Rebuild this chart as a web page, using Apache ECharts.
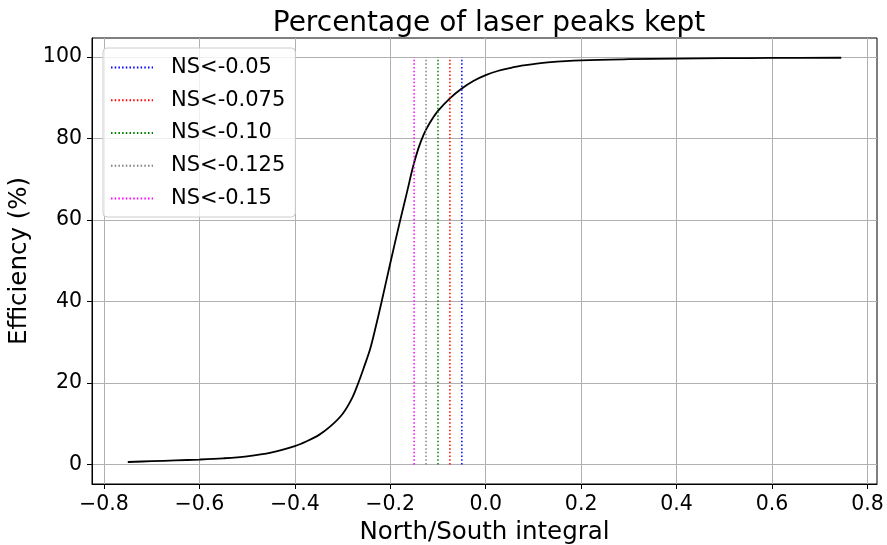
<!DOCTYPE html>
<html>
<head>
<meta charset="utf-8">
<title>Percentage of laser peaks kept</title>
<script src="https://cdn.jsdelivr.net/npm/echarts@6/dist/echarts.min.js"></script>
<style>
  html, body { margin: 0; padding: 0; background: #ffffff; }
  #chart { width: 887px; height: 545px; }
</style>
</head>
<body>
<div id="chart"></div>
<script>
// North/South integral values and the matching efficiency (%)
const nsIntegral = [
  -0.75, -0.70, -0.65, -0.60, -0.55, -0.50, -0.45, -0.40, -0.375, -0.35,
  -0.325, -0.30, -0.28, -0.267, -0.255, -0.242, -0.23, -0.218, -0.20, -0.179,
  -0.165, -0.152, -0.141, -0.13, -0.117, -0.10, -0.075, -0.05, -0.025, 0.0,
  0.025, 0.05, 0.075, 0.10, 0.13, 0.20, 0.30, 0.40, 0.50, 0.60, 0.745
];
const efficiency = [
  0.6, 0.8, 1.0, 1.2, 1.5, 2.0, 2.9, 4.5, 5.7, 7.2,
  9.4, 12.4, 16.3, 20.0, 23.9, 28.4, 34.0, 40.0, 49.4, 60.0,
  66.8, 73.2, 77.6, 81.0, 83.9, 86.8, 89.9, 92.3, 94.2, 95.6,
  96.6, 97.3, 97.9, 98.3, 98.7, 99.2, 99.5, 99.65, 99.75, 99.8, 99.85
];

// Cut thresholds drawn as vertical dotted lines
const cutNames = ['NS<-0.05', 'NS<-0.075', 'NS<-0.10', 'NS<-0.125', 'NS<-0.15'];
const cutValues = [-0.05, -0.075, -0.10, -0.125, -0.15];
const cutColors = ['#0000ff', '#ff0000', '#008000', '#808080', '#ff00ff'];
const cutSpan = [0, 100];

// Axis tick positions
const xTicks = [-0.8, -0.6, -0.4, -0.2, 0.0, 0.2, 0.4, 0.6, 0.8];
const yTicks = [0, 20, 40, 60, 80, 100];

const FONT = 'DejaVu Sans';
const minus = s => String(s).replace('-', '\u2212');

const curveSeries = {
  name: 'efficiency',
  type: 'line',
  data: nsIntegral.map((x, i) => [x, efficiency[i]]),
  showSymbol: false,
  symbol: 'none',
  smooth: 0.35,
  lineStyle: { color: '#000000', width: 1.8 },
  z: 3
};

const cutSeries = cutValues.map((v, i) => ({
  name: cutNames[i],
  type: 'line',
  data: cutSpan.map(y => [v, y]),
  symbol: 'none',
  showSymbol: false,
  itemStyle: { color: cutColors[i] },
  lineStyle: { color: cutColors[i], width: 1.5, type: [1.5, 2.2] },
  z: 4
}));

const chart = echarts.init(document.getElementById('chart'), null, { renderer: 'canvas' });
chart.setOption({
  animation: false,
  backgroundColor: '#ffffff',
  title: {
    text: 'Percentage of laser peaks kept',
    left: 484, top: 5,
    textAlign: 'center',
    textStyle: { fontFamily: FONT, fontSize: 28, fontWeight: 'normal', color: '#000' }
  },
  grid: {
    left: 92, right: 10, top: 38, bottom: 61,
    outerBoundsMode: 'none',
    containLabel: false,
    show: true, borderColor: '#000', borderWidth: 1, backgroundColor: 'transparent'
  },
  legend: {
    data: cutNames,
    orient: 'vertical',
    left: 103, top: 48,
    padding: [9, 10, 8, 7],
    itemWidth: 42, itemHeight: 22, itemGap: 11.75,
    itemStyle: { opacity: 0 },
    backgroundColor: 'rgba(255,255,255,0.8)',
    borderColor: '#cccccc', borderWidth: 1, borderRadius: 4,
    textStyle: { fontFamily: FONT, fontSize: 21, color: '#000', padding: [0, 0, 0, 13] }
  },
  xAxis: {
    type: 'value',
    min: -0.825, max: 0.82,
    name: 'North/South integral',
    nameLocation: 'middle', nameGap: 33,
    nameTextStyle: { fontFamily: FONT, fontSize: 24.5, color: '#000' },
    axisLine: { show: true, onZero: false, lineStyle: { color: '#000', width: 1 } },
    axisTick: { show: true, inside: false, length: 5, customValues: xTicks, lineStyle: { color: '#000' } },
    axisLabel: {
      customValues: xTicks, margin: 10,
      fontFamily: FONT, fontSize: 20.5, color: '#000',
      formatter: v => minus(Number(v).toFixed(1))
    },
    splitLine: { show: true, lineStyle: { color: '#b0b0b0', width: 1 } }
  },
  yAxis: {
    type: 'value',
    min: -4.8, max: 104.7,
    name: 'Efficiency (%)',
    nameLocation: 'middle', nameGap: 54, nameRotate: 90,
    nameTextStyle: { fontFamily: FONT, fontSize: 24.5, color: '#000' },
    axisLine: { show: true, onZero: false, lineStyle: { color: '#000', width: 1 } },
    axisTick: { show: true, inside: false, length: 5, customValues: yTicks, lineStyle: { color: '#000' } },
    axisLabel: {
      customValues: yTicks, margin: 10,
      fontFamily: FONT, fontSize: 20.5, color: '#000',
      formatter: v => String(Math.round(v))
    },
    splitLine: { show: true, lineStyle: { color: '#b0b0b0', width: 1 } }
  },
  series: [curveSeries].concat(cutSeries)
});
</script>
</body>
</html>
